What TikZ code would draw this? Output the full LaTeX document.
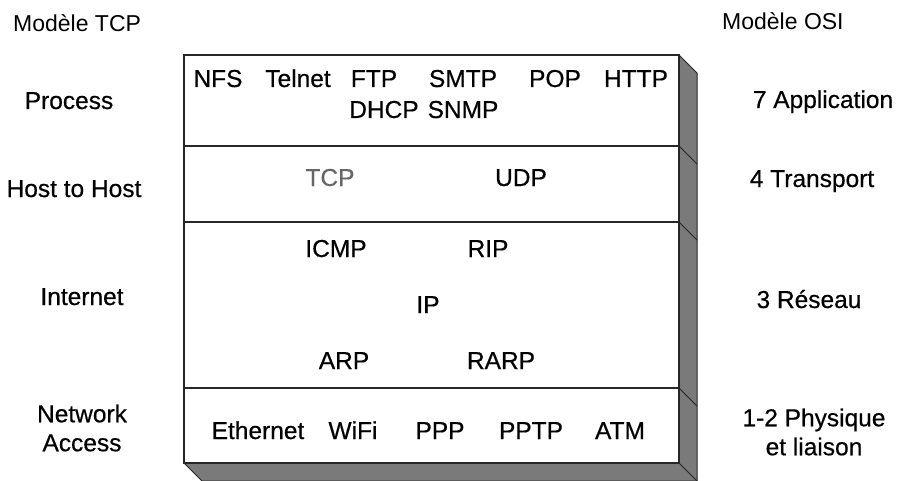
\documentclass[tikz,border=0pt]{standalone}
\usepackage{fontspec}
\setmainfont{Liberation Sans}
\newfontfamily\heavysans[FakeBold=0.5]{Liberation Sans}
\begin{document}
\begin{tikzpicture}[x=1pt,y=-1pt,
  lbl/.style={font=\heavysans\fontsize{24.5}{29}\selectfont, inner sep=0pt, anchor=base},
  ttl/.style={font=\fontsize{23}{27}\selectfont, inner sep=0pt, anchor=base west},
  proto/.style={lbl},
  edge/.style={line width=1.2pt, black!85},
  shade/.style={fill=black!52, draw=black!85, line width=1pt, line join=round}]
\useasboundingbox (0,0) rectangle (909,481);
% shadow
\filldraw[shade] (679,55) -- (697,73) -- (697,481) -- (202,481) -- (184,463) -- (679,463) -- cycle;
\foreach \yy in {146,222,388,463} \draw[black!85, line width=1pt] (679,\yy) -- (697,\yy+18);
% box
\draw[edge, fill=white] (184,55) rectangle (679,463);
\draw[edge] (184,146) -- (679,146);
\draw[edge] (184,222) -- (679,222);
\draw[edge] (184,388) -- (679,388);
% titles
\node[ttl] (tcpt) at (13,32) {Modèle TCP};
\node[ttl] (osit) at (722,30) {Modèle OSI};
% TCP layers
\node[lbl] (proc) at (69,109) {Process};
\node[lbl] (host) at (74,197) {Host to Host};
\node[lbl] (inet) at (82,305) {Internet};
\node[lbl, align=center, anchor=center] (net) at (82,428) {Network\\Access};
% OSI layers
\node[lbl] (app) at (823,108) {7 Application};
\node[lbl] (trans) at (812,187) {4 Transport};
\node[lbl] (res) at (809,308) {3 Réseau};
\node[lbl, align=center, anchor=center] (phys) at (814,432) {1-2 Physique\\et liaison};
% protocols
\node[proto] (nfs) at (218,87) {NFS};
\node[proto] (telnet) at (298,87) {Telnet};
\node[proto] (ftp) at (374,87) {FTP};
\node[proto] (smtp) at (463,87) {SMTP};
\node[proto] (pop) at (555,87) {POP};
\node[proto] (http) at (636,87) {HTTP};
\node[proto] (dhcp) at (384,118) {DHCP};
\node[proto] (snmp) at (463,118) {SNMP};
\node[proto, text=black!60] (tcp) at (330,186) {TCP};
\node[proto] (udp) at (521,186) {UDP};
\node[proto] (icmp) at (336,257) {ICMP};
\node[proto] (rip) at (488,257) {RIP};
\node[proto] (ip) at (428,313) {IP};
\node[proto] (arp) at (344,369) {ARP};
\node[proto] (rarp) at (501,369) {RARP};
\node[proto] (eth) at (258,439) {Ethernet};
\node[proto] (wifi) at (353,439) {WiFi};
\node[proto] (ppp) at (440,439) {PPP};
\node[proto] (pptp) at (531,439) {PPTP};
\node[proto] (atm) at (620,439) {ATM};
\end{tikzpicture}
\end{document}
